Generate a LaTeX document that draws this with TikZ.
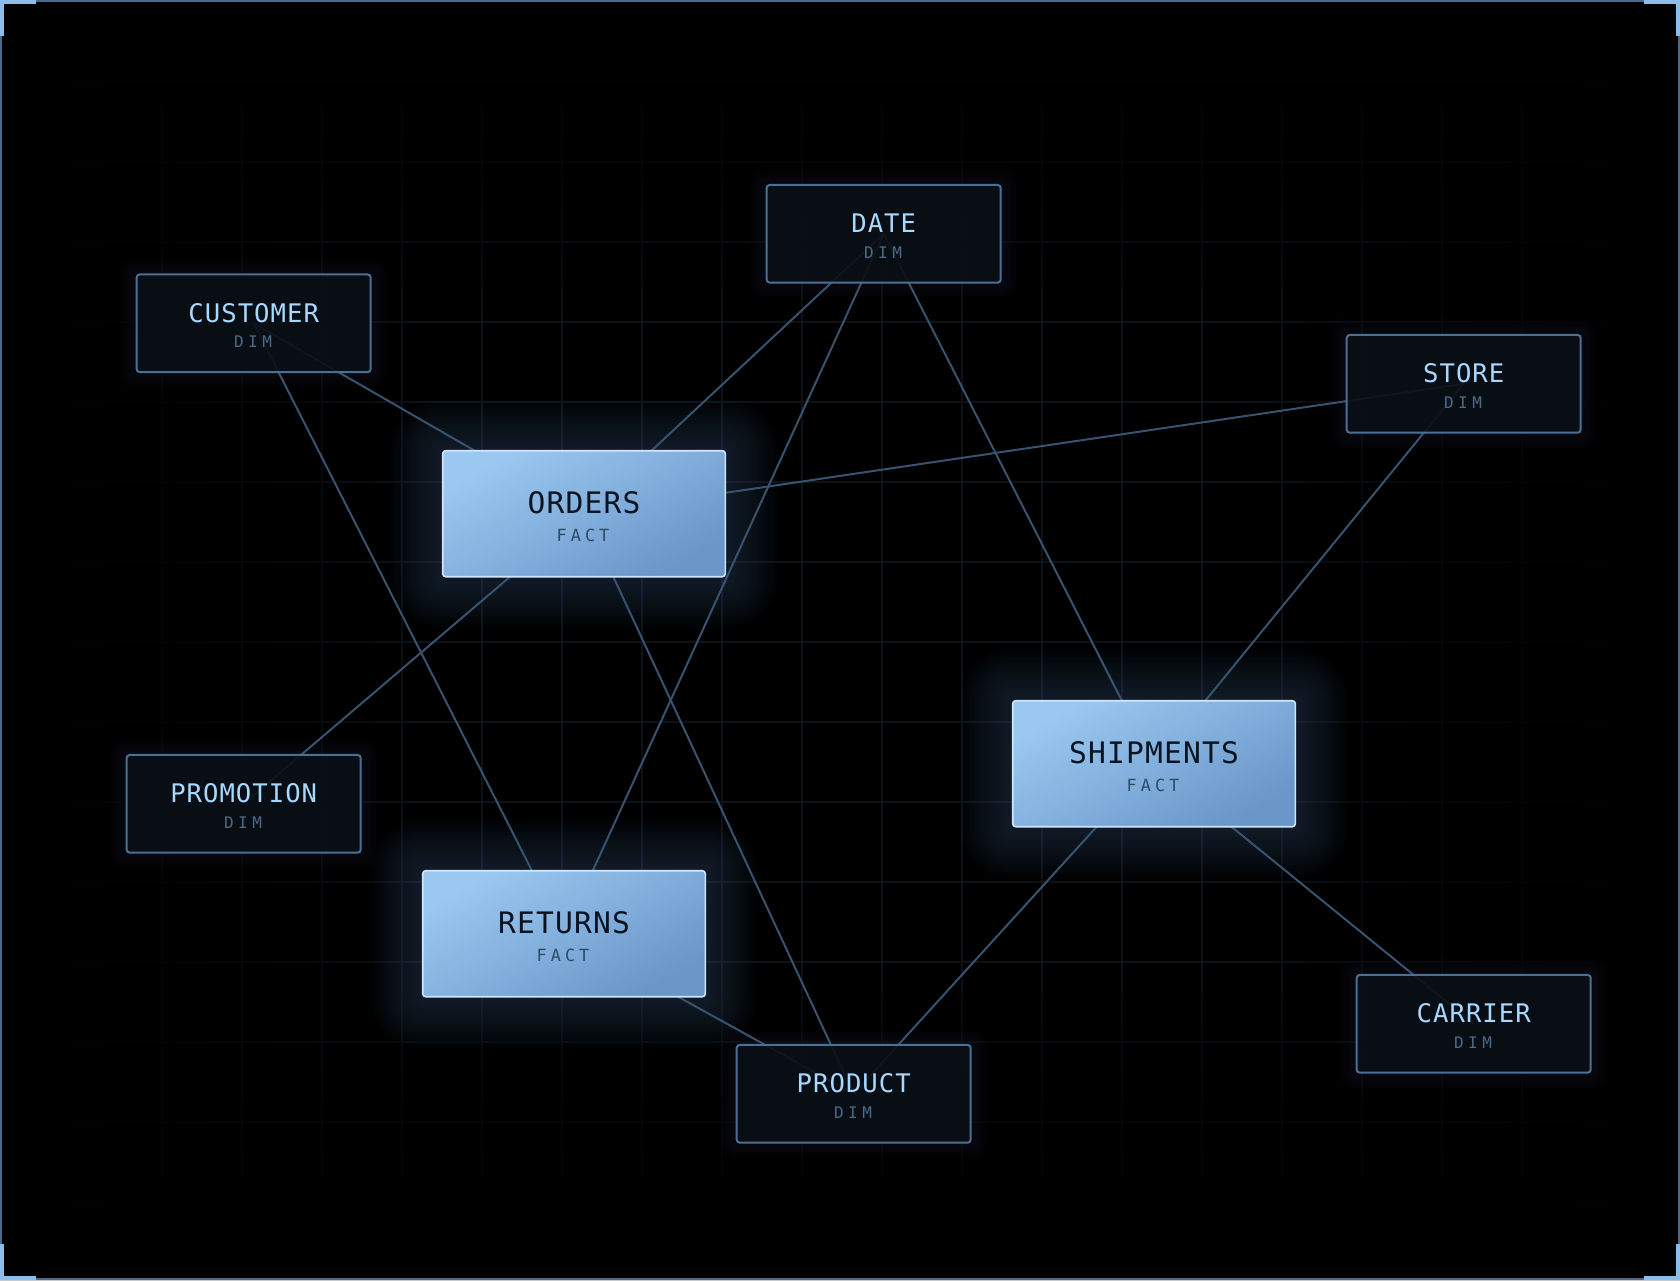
\documentclass[tikz,border=0pt]{standalone}
\usepackage{fontspec}
\newfontfamily\titlefont[LetterSpace=4]{DejaVu Sans Mono}
\newfontfamily\subfont[LetterSpace=28]{DejaVu Sans Mono}
\newfontfamily\factsubfont[LetterSpace=24]{DejaVu Sans Mono}
\usetikzlibrary{calc}
\definecolor{gridc}{HTML}{0D1219}
\definecolor{framec}{HTML}{4A6A8A}
\definecolor{accentc}{HTML}{8CBCE8}
\definecolor{edgec}{HTML}{38536F}
\definecolor{dimfill}{HTML}{0A0F16}
\definecolor{dimborder}{HTML}{4B7096}
\definecolor{dimtitle}{HTML}{A8D8FF}
\definecolor{dimsub}{HTML}{4A6A88}
\definecolor{factA}{HTML}{9AC8F0}
\definecolor{factB}{HTML}{6A96C8}
\definecolor{factborder}{HTML}{CFE6FF}
\definecolor{facttitle}{HTML}{0A1420}
\definecolor{factsub}{HTML}{2E4A68}
\definecolor{glowc}{HTML}{5A90D0}
\pgfdeclarelayer{gridlayer}
\pgfdeclarelayer{glowlayer}
\pgfdeclarelayer{edgelayer}
\pgfsetlayers{gridlayer,glowlayer,edgelayer,main}
\tikzset{
  dimbox/.style={draw=dimborder, line width=1pt, fill=dimfill, fill opacity=0.9, rounded corners=1.5pt, minimum width=117pt, minimum height=48.85pt, inner sep=0pt},
  factbox/.style={draw=factborder, line width=0.8pt, rounded corners=1.5pt, top color=factA, bottom color=factB, shading angle=30, minimum width=141.3pt, minimum height=63pt, inner sep=0pt},
  dimt/.style={anchor=base, inner sep=0pt, text=dimtitle, font=\titlefont\fontsize{12.8pt}{14pt}\selectfont},
  dims/.style={anchor=base, inner sep=0pt, text=dimsub, font=\subfont\fontsize{8pt}{9pt}\selectfont},
  factt/.style={anchor=base, inner sep=0pt, text=facttitle, font=\titlefont\fontsize{14.8pt}{17pt}\selectfont},
  facts/.style={anchor=base, inner sep=0pt, text=factsub, font=\factsubfont\fontsize{8.4pt}{9pt}\selectfont},
  edge/.style={draw=edgec, line width=1pt},
}
\begin{document}
\begin{tikzpicture}[x=0.5pt, y=-0.5pt]
\useasboundingbox (0,0) rectangle (1680,1280);
\begin{pgfonlayer}{gridlayer}
\fill[black] (0,0) rectangle (1680,1280);
\foreach \gx in {82,162,...,1602} \draw[gridc, line width=0.6pt] (\gx,0) -- (\gx,1280);
\foreach \gy in {82,162,...,1202} \draw[gridc, line width=0.6pt] (0,\gy) -- (1680,\gy);
% vignette
\foreach \i [evaluate=\i as \mx using \i*34, evaluate=\i as \my using \i*26] in {1,...,12}{
  \fill[black, opacity=0.16, even odd rule] (0,0) rectangle (1680,1280) (\mx,\my) rectangle (1680-\mx,1280-\my);
}
\end{pgfonlayer}

% dimension nodes
\node[dimbox] (date) at (883.7,233.8) {};
\node[dimt] (date-t) at (883.7,232.5) {DATE};
\node[dims] (date-s) at (883,258.3) {DIM};

\node[dimbox] (customer) at (253.7,323.3) {};
\node[dimt] (customer-t) at (253.7,322.3) {CUSTOMER};
\node[dims] (customer-s) at (253,347.7) {DIM};

\node[dimbox] (store) at (1463.7,383.8) {};
\node[dimt] (store-t) at (1463.7,382.8) {STORE};
\node[dims] (store-s) at (1463,408.3) {DIM};

\node[dimbox] (promotion) at (243.7,803.8) {};
\node[dimt] (promotion-t) at (243.7,802.8) {PROMOTION};
\node[dims] (promotion-s) at (243,828.3) {DIM};

\node[dimbox] (product) at (853.7,1093.8) {};
\node[dimt] (product-t) at (853.7,1092.8) {PRODUCT};
\node[dims] (product-s) at (853,1118.3) {DIM};

\node[dimbox] (carrier) at (1473.7,1023.8) {};
\node[dimt] (carrier-t) at (1473.7,1022.8) {CARRIER};
\node[dims] (carrier-s) at (1473,1048.3) {DIM};

% fact nodes
\node[factbox] (orders) at (584,513.7) {};
\node[factt] (orders-t) at (584,513.3) {ORDERS};
\node[facts] (orders-s) at (583,541.7) {FACT};

\node[factbox] (shipments) at (1154,763.7) {};
\node[factt] (shipments-t) at (1154,763.3) {SHIPMENTS};
\node[facts] (shipments-s) at (1153,791.7) {FACT};

\node[factbox] (returns) at (564,933.7) {};
\node[factt] (returns-t) at (564,933.3) {RETURNS};
\node[facts] (returns-s) at (563,961.7) {FACT};

\begin{pgfonlayer}{glowlayer}
\foreach \n in {orders,shipments,returns}{
  \foreach \i [evaluate=\i as \d using \i*1.6] in {1,...,16}{
    \fill[glowc, opacity=0.015, rounded corners=\d pt] ([xshift=-\d pt, yshift=-\d pt]\n.south west) rectangle ([xshift=\d pt, yshift=\d pt]\n.north east);
  }
}
\foreach \n in {date,customer,store,promotion,product,carrier}{
  \foreach \i [evaluate=\i as \d using \i*1.2] in {1,...,7}{
    \fill[glowc, opacity=0.01, rounded corners=\d pt] ([xshift=-\d pt, yshift=-\d pt]\n.south west) rectangle ([xshift=\d pt, yshift=\d pt]\n.north east);
  }
}
\end{pgfonlayer}

\begin{pgfonlayer}{edgelayer}
\draw[edge] (customer.center) -- (orders.center);
\draw[edge] (customer.center) -- (returns.center);
\draw[edge] (date.center) -- (orders.center);
\draw[edge] (date.center) -- (returns.center);
\draw[edge] (date.center) -- (shipments.center);
\draw[edge] (store.center) -- (orders.center);
\draw[edge] (store.center) -- (shipments.center);
\draw[edge] (orders.center) -- (promotion.center);
\draw[edge] (orders.center) -- (product.center);
\draw[edge] (returns.center) -- (product.center);
\draw[edge] (shipments.center) -- (product.center);
\draw[edge] (shipments.center) -- (carrier.center);
\end{pgfonlayer}

% frame and corner accents
\draw[framec, line width=1pt] (1,1) rectangle (1679,1279);
\fill[accentc] (0,0) rectangle (36,4);
\fill[accentc] (0,0) rectangle (4,36);
\fill[accentc] (1680,0) rectangle (1644,4);
\fill[accentc] (1680,0) rectangle (1676,36);
\fill[accentc] (0,1280) rectangle (36,1276);
\fill[accentc] (0,1280) rectangle (4,1244);
\fill[accentc] (1680,1280) rectangle (1644,1276);
\fill[accentc] (1680,1280) rectangle (1676,1244);
\end{tikzpicture}
\end{document}
